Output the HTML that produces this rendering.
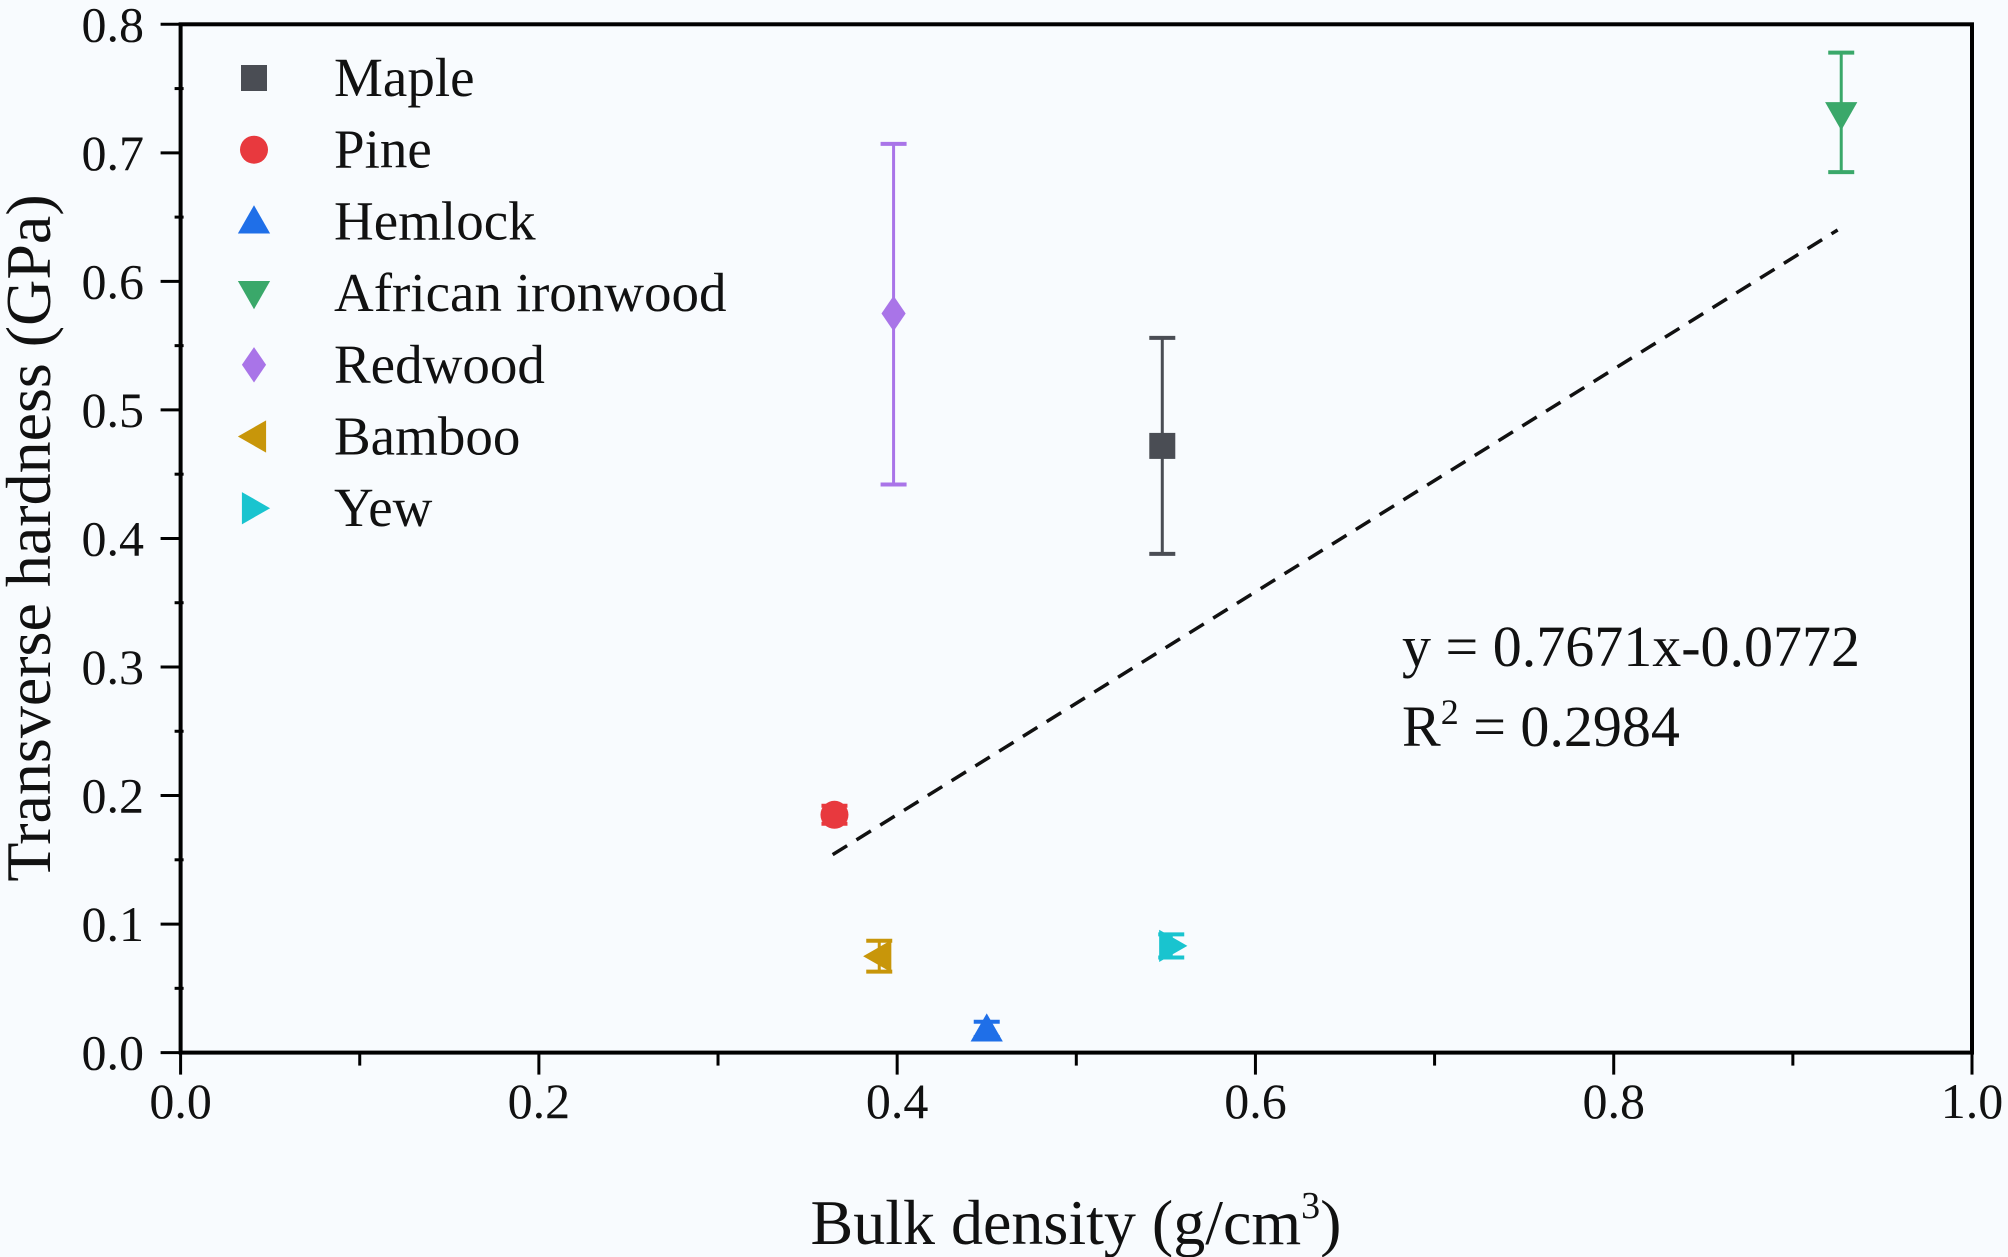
<!DOCTYPE html>
<html><head><meta charset="utf-8"><style>
html,body{margin:0;padding:0;background:#f8fbfe;}
svg{display:block;font-family:"Liberation Serif","Times New Roman",serif;}
text{font-family:"Liberation Serif","Times New Roman",serif;}
</style></head><body>
<svg id="chart" width="2008" height="1257" viewBox="0 0 2008 1257">
<rect width="2008" height="1257" fill="#f8fbfe"/>
<g id="plot"></g>
</svg>
<script>
const names = ["Maple","Pine","Hemlock","African ironwood","Redwood","Bamboo","Yew"];
const xVals = [0.548,0.365,0.450,0.927,0.398,0.390,0.553];
const yVals = [0.472,0.185,0.018,0.730,0.575,0.075,0.083];
const errLo = [0.388,0.178,0.012,0.685,0.442,0.063,0.074];
const errHi = [0.556,0.192,0.024,0.778,0.707,0.087,0.092];
const colors = ["#4a4d54","#e8393e","#1f6fe8","#3aa86a","#a974e8","#c8960a","#19c4cf"];
const shapes = ["square","circle","up","down","diamond","left","right"];
const fitX = [0.364,0.925];
const fitY = [0.154,0.640];
const xTicks = [0,0.2,0.4,0.6,0.8,1.0];
const xTickLabels = ["0.0","0.2","0.4","0.6","0.8","1.0"];
const yTicks = [0,0.1,0.2,0.3,0.4,0.5,0.6,0.7,0.8];
const yTickLabels = ["0.0","0.1","0.2","0.3","0.4","0.5","0.6","0.7","0.8"];

const L=180.6,R=1972,T=24.3,B=1052.6;
const sx=v=>L+(R-L)*v/1.0;
const sy=v=>B-(B-T)*v/0.8;
const NS="http://www.w3.org/2000/svg";
const g=document.getElementById('plot');
function mk(tag,attrs,parent){const e=document.createElementNS(NS,tag);for(const k in attrs)e.setAttribute(k,attrs[k]);(parent||g).appendChild(e);return e;}
function marker(shape,cx,cy,s,fill,parent){
  let e;
  if(shape==="square") e=mk('rect',{x:cx-s/2,y:cy-s/2,width:s,height:s,fill:fill},parent);
  else if(shape==="circle") e=mk('circle',{cx:cx,cy:cy,r:s/2+1,fill:fill},parent);
  else {
    let h=s*0.62,pts;
    if(shape==="up") pts=[[cx,cy-h],[cx-h,cy+h*0.75],[cx+h,cy+h*0.75]];
    if(shape==="down") pts=[[cx,cy+h],[cx-h,cy-h*0.75],[cx+h,cy-h*0.75]];
    if(shape==="left") pts=[[cx-h,cy],[cx+h*0.75,cy-h],[cx+h*0.75,cy+h]];
    if(shape==="right") pts=[[cx+h,cy],[cx-h*0.75,cy-h],[cx-h*0.75,cy+h]];
    if(shape==="diamond") pts=[[cx,cy-h*1.1],[cx+h*0.75,cy],[cx,cy+h*1.1],[cx-h*0.75,cy]];
    e=mk('polygon',{points:pts.map(p=>p.join(',')).join(' '),fill:fill},parent);
  }
  return e;
}

const frame=mk('rect',{x:L,y:T,width:R-L,height:B-T,fill:'none',stroke:'#000','stroke-width':4});



for(let i=0;i<=10;i++){
  const v=i/10, x=sx(v), major=i%2===0;
  const t=mk('line',{x1:x,y1:B,x2:x,y2:B+(major?22:13),stroke:'#000','stroke-width':3});
  
  
}
xTicks.forEach((v,i)=>{
  const t=mk('text',{x:sx(v),y:1118,'font-size':50,'text-anchor':'middle',fill:'#111'});
  t.textContent=xTickLabels[i];
  
  
});
for(let i=0;i<=16;i++){
  const v=i*0.05, y=sy(v), major=i%2===0;
  const t=mk('line',{x1:major?L-20:L-6,y1:y,x2:major?L:L+3,y2:y,stroke:'#000','stroke-width':3});
  
  
}
yTicks.forEach((v,i)=>{
  const t=mk('text',{x:144,y:sy(v)+17,'font-size':50,'text-anchor':'end',fill:'#111'});
  t.textContent=yTickLabels[i];
  
  
});

const xt=mk('text',{x:1076,y:1244,'font-size':64,'text-anchor':'middle',fill:'#111'});
xt.innerHTML='Bulk density (g/cm<tspan dy="-26" font-size="38">3</tspan><tspan dy="26">)</tspan>';


const yt=mk('text',{x:0,y:0,'font-size':64,'text-anchor':'middle',fill:'#111',transform:'translate(50,538) rotate(-90)'});
yt.textContent='Transverse hardness (GPa)';



const fit=mk('line',{x1:sx(fitX[0]),y1:sy(fitY[0]),x2:sx(fitX[1]),y2:sy(fitY[1]),stroke:'#111','stroke-width':3.5,'stroke-dasharray':'17 11'});



const eq=mk('text',{x:1402,y:666,'font-size':58,fill:'#111'});
eq.textContent='y = 0.7671x-0.0772';


const r2=mk('text',{x:1402,y:746,'font-size':58,fill:'#111'});
r2.innerHTML='R<tspan dy="-22" font-size="36">2</tspan><tspan dy="22"> = 0.2984</tspan>';



names.forEach((n,i)=>{
  const grp=mk('g',{});
  
  
  const x=sx(xVals[i]);
  mk('line',{x1:x,y1:sy(errLo[i]),x2:x,y2:sy(errHi[i]),stroke:colors[i],'stroke-width':3},grp);
  [errLo[i],errHi[i]].forEach(v=>mk('line',{x1:x-13,y1:sy(v),x2:x+13,y2:sy(v),stroke:colors[i],'stroke-width':4},grp));
  marker(shapes[i],x,sy(yVals[i]),26,colors[i],grp);
});

const legend=mk('g',{});


names.forEach((n,i)=>{
  const y=78+i*71.7;
  const e=mk('g',{},legend);
  
  
  marker(shapes[i],254,y,26,colors[i],e);
  const t=mk('text',{x:334,y:y+18,'font-size':55,fill:'#111'},e);
  t.textContent=n;
});
</script>
</body></html>
